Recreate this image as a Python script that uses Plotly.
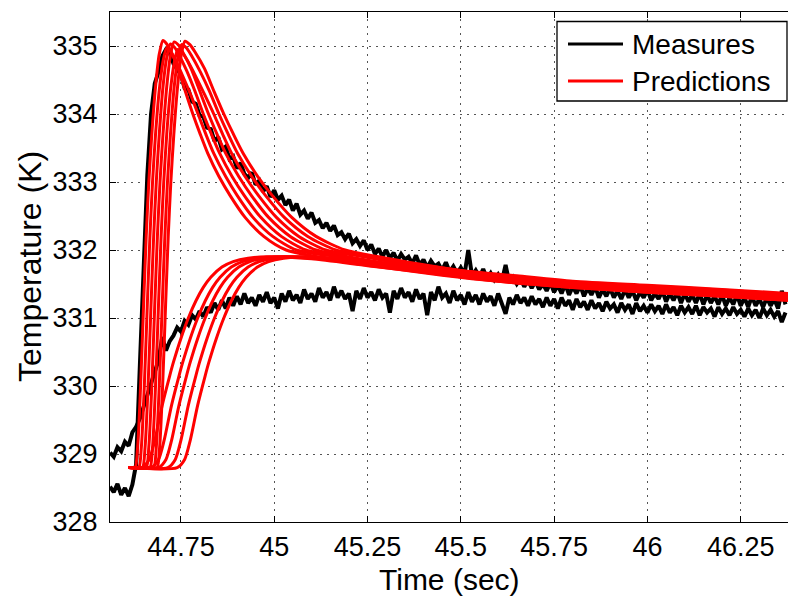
import numpy as np
import plotly.graph_objects as go

# ---------------- data ----------------
t_meas = np.round(np.arange(44.56, 46.3701, 0.01), 2)

meas_a = [
 328.52, 328.44, 328.56, 328.40, 328.50, 328.38, 328.55, 328.85,
 330.30, 331.90, 333.10, 334.00, 334.45, 334.62, 334.85, 334.95,
 334.90, 334.74, 334.66, 334.58, 334.38, 334.36, 334.18, 334.15, 333.98, 333.96,
 333.80, 333.78, 333.60, 333.66, 333.48, 333.52, 333.34, 333.38, 333.20, 333.28,
 333.12, 333.06, 333.14, 332.96, 333.02, 332.86, 332.94, 332.78, 332.88, 332.74,
 332.80, 332.66, 332.74, 332.58, 332.68, 332.52, 332.58, 332.46, 332.55, 332.40,
 332.44, 332.32, 332.40, 332.28, 332.36, 332.22, 332.26, 332.16, 332.24, 332.10,
 332.16, 332.06, 332.14, 332.00, 332.08, 331.94, 332.02, 331.90, 332.00, 331.88,
 331.96, 331.84, 331.94, 331.86, 331.90, 331.80, 331.92, 331.78, 331.86, 331.74,
 331.84, 331.76, 331.80, 331.70, 331.82, 331.68, 331.76, 331.66, 331.74, 331.64,
 332.00, 331.62, 331.70, 331.60, 331.72, 331.58, 331.66, 331.56, 331.64, 331.54,
 331.78, 331.52, 331.60, 331.50, 331.58, 331.46, 331.56, 331.44, 331.54, 331.42,
 331.50, 331.40, 331.52, 331.38, 331.48, 331.36, 331.50, 331.34, 331.46, 331.36,
 331.48, 331.32, 331.44, 331.34, 331.46, 331.30, 331.42, 331.32, 331.44, 331.30,
 331.40, 331.28, 331.42, 331.30, 331.40, 331.26, 331.38, 331.30, 331.42, 331.26,
 331.36, 331.28, 331.40, 331.24, 331.36, 331.26, 331.38, 331.22, 331.36, 331.24,
 331.34, 331.22, 331.36, 331.20, 331.34, 331.22, 331.32, 331.20, 331.34, 331.18,
 331.30, 331.20, 331.34, 331.18, 331.30, 331.16, 331.32, 331.18, 331.28, 331.16,
 331.30, 331.18, 331.28, 331.14, 331.40, 331.20,
]

meas_b = [
 329.02, 328.96, 329.10, 329.04, 329.18, 329.12, 329.32, 329.40,
 329.52, 329.70, 329.88, 330.05, 330.20, 330.38, 330.72, 330.52,
 330.66, 330.74, 330.86, 330.80, 330.96, 330.90, 331.04, 330.98, 331.10, 331.02,
 331.16, 331.08, 331.22, 331.12, 331.26, 331.14, 331.30, 331.18, 331.32, 331.20,
 331.36, 331.22, 331.30, 331.18, 331.34, 331.24, 331.38, 331.22, 331.30, 331.14,
 331.36, 331.24, 331.40, 331.26, 331.34, 331.22, 331.42, 331.28, 331.36, 331.24,
 331.44, 331.30, 331.38, 331.26, 331.46, 331.30, 331.40, 331.28, 331.36, 331.10,
 331.40, 331.28, 331.44, 331.30, 331.38, 331.26, 331.42, 331.30, 331.36, 331.08,
 331.40, 331.28, 331.44, 331.30, 331.38, 331.24, 331.42, 331.28, 331.36, 331.04,
 331.38, 331.26, 331.46, 331.30, 331.36, 331.22, 331.40, 331.26, 331.34, 331.20,
 331.38, 331.24, 331.34, 331.20, 331.36, 331.24, 331.32, 331.18, 331.36, 331.22,
 331.06, 331.30, 331.20, 331.34, 331.22, 331.30, 331.18, 331.32, 331.20, 331.28,
 331.16, 331.30, 331.18, 331.28, 331.14, 331.30, 331.18, 331.26, 331.12, 331.28,
 331.16, 331.24, 331.12, 331.26, 331.14, 331.22, 331.10, 331.24, 331.14, 331.20,
 331.08, 331.22, 331.12, 331.20, 331.06, 331.22, 331.10, 331.18, 331.08, 331.20,
 331.10, 331.18, 331.06, 331.20, 331.08, 331.16, 331.04, 331.18, 331.08, 331.16,
 331.06, 331.18, 331.04, 331.16, 331.08, 331.14, 331.02, 331.16, 331.06, 331.14,
 331.04, 331.16, 331.06, 331.12, 331.02, 331.14, 331.04, 331.12, 331.00, 331.14,
 331.04, 331.12, 331.02, 331.10, 330.94, 331.08,
]

# Predictions: curves that overshoot to a peak
peak_t = [
 [44.61, 44.612, 44.627, 44.634, 44.642, 44.650, 44.657, 44.664, 44.672, 44.682, 44.692, 44.702,
  44.712, 44.722, 44.742, 44.762, 44.782, 44.802, 44.822, 44.852, 44.882, 44.922, 44.972, 45.032,
  45.15, 45.30, 45.45, 45.60, 45.80, 46.00, 46.20, 46.38],
 [44.61, 44.622, 44.637, 44.644, 44.652, 44.660, 44.667, 44.674, 44.682, 44.692, 44.702, 44.712,
  44.723, 44.733, 44.754, 44.775, 44.796, 44.817, 44.838, 44.870, 44.901, 44.943, 44.996, 45.059,
  45.17, 45.30, 45.45, 45.60, 45.80, 46.00, 46.20, 46.38],
 [44.61, 44.632, 44.647, 44.654, 44.662, 44.670, 44.677, 44.684, 44.692, 44.702, 44.712, 44.722,
  44.733, 44.744, 44.766, 44.788, 44.810, 44.832, 44.854, 44.887, 44.920, 44.964, 45.019, 45.085,
  45.20, 45.30, 45.45, 45.60, 45.80, 46.00, 46.20, 46.38],
 [44.61, 44.642, 44.657, 44.664, 44.672, 44.680, 44.687, 44.694, 44.702, 44.712, 44.722, 44.732,
  44.744, 44.755, 44.778, 44.801, 44.824, 44.847, 44.870, 44.905, 44.939, 44.985, 45.043, 45.112,
  45.22, 45.32, 45.45, 45.60, 45.80, 46.00, 46.20, 46.38],
 [44.61, 44.652, 44.667, 44.674, 44.682, 44.690, 44.697, 44.704, 44.712, 44.722, 44.732, 44.742,
  44.754, 44.766, 44.790, 44.814, 44.838, 44.862, 44.886, 44.922, 44.958, 45.006, 45.066, 45.138,
  45.24, 45.34, 45.45, 45.60, 45.80, 46.00, 46.20, 46.38],
 [44.61, 44.662, 44.677, 44.684, 44.692, 44.700, 44.707, 44.714, 44.722, 44.732, 44.742, 44.752,
  44.765, 44.777, 44.802, 44.827, 44.852, 44.877, 44.902, 44.940, 44.977, 45.027, 45.090, 45.165,
  45.26, 45.36, 45.47, 45.60, 45.80, 46.00, 46.20, 46.38],
 [44.61, 44.671, 44.686, 44.693, 44.701, 44.709, 44.716, 44.723, 44.731, 44.741, 44.751, 44.761,
  44.774, 44.787, 44.813, 44.839, 44.865, 44.891, 44.917, 44.956, 44.995, 45.047, 45.112, 45.190,
  45.28, 45.38, 45.50, 45.65, 45.80, 46.00, 46.20, 46.38],
]
peak_v = [
 [328.8, 328.8, 328.8, 329.1, 330.0, 331.2, 332.2, 333.0, 333.7, 334.4, 334.88, 335.08,
  335.03, 334.93, 334.68, 334.33, 334.0, 333.7, 333.42, 333.08, 332.8, 332.48, 332.2, 332.0,
  331.87, 331.76, 331.65, 331.56, 331.47, 331.41, 331.35, 331.29],
 [328.8, 328.8, 328.8, 329.1, 330.0, 331.2, 332.2, 333.0, 333.7, 334.35, 334.77, 334.97,
  334.92, 334.82, 334.57, 334.3, 334.0, 333.7, 333.42, 333.08, 332.8, 332.48, 332.2, 332.0,
  331.9, 331.78, 331.67, 331.58, 331.49, 331.43, 331.37, 331.31],
 [328.8, 328.8, 328.8, 329.1, 330.0, 331.2, 332.2, 333.0, 333.7, 334.4, 334.83, 335.03,
  334.98, 334.88, 334.63, 334.33, 334.0, 333.7, 333.42, 333.08, 332.8, 332.48, 332.2, 332.0,
  331.88, 331.8, 331.69, 331.6, 331.5, 331.44, 331.38, 331.32],
 [328.8, 328.8, 328.8, 329.1, 330.0, 331.2, 332.2, 333.0, 333.7, 334.4, 334.86, 335.06,
  335.01, 334.91, 334.66, 334.33, 334.0, 333.7, 333.42, 333.08, 332.8, 332.48, 332.2, 332.0,
  331.88, 331.79, 331.7, 331.61, 331.51, 331.45, 331.39, 331.33],
 [328.8, 328.8, 328.8, 329.1, 330.0, 331.2, 332.2, 333.0, 333.7, 334.35, 334.75, 334.95,
  334.9, 334.8, 334.55, 334.28, 334.0, 333.7, 333.42, 333.08, 332.8, 332.48, 332.2, 332.0,
  331.9, 331.8, 331.72, 331.62, 331.52, 331.46, 331.4, 331.34],
 [328.8, 328.8, 328.8, 329.1, 330.0, 331.2, 332.2, 333.0, 333.7, 334.4, 334.82, 335.02,
  334.97, 334.87, 334.62, 334.33, 334.0, 333.7, 333.42, 333.08, 332.8, 332.48, 332.2, 332.0,
  331.9, 331.8, 331.72, 331.63, 331.53, 331.47, 331.41, 331.35],
 [328.8, 328.8, 328.8, 329.1, 330.0, 331.2, 332.2, 333.0, 333.7, 334.4, 334.87, 335.07,
  335.02, 334.92, 334.67, 334.33, 334.0, 333.7, 333.42, 333.08, 332.8, 332.48, 332.2, 332.0,
  331.9, 331.8, 331.7, 331.62, 331.54, 331.48, 331.42, 331.36],
]

# Predictions: curves that rise slowly to a plateau
rise_t = [
 [44.61, 44.645, 44.665, 44.68, 44.70, 44.72, 44.73, 44.75, 44.77, 44.79, 44.81, 44.83, 44.86, 44.89, 44.93, 44.98,
  45.10, 45.25, 45.45, 45.60, 45.80, 46.00, 46.20, 46.38],
 [44.61, 44.67, 44.69, 44.705, 44.725, 44.745, 44.755, 44.775, 44.795, 44.815, 44.835, 44.855, 44.885, 44.915, 44.955, 45.005,
  45.12, 45.27, 45.45, 45.60, 45.80, 46.00, 46.20, 46.38],
 [44.61, 44.69, 44.71, 44.725, 44.745, 44.765, 44.775, 44.795, 44.815, 44.835, 44.855, 44.875, 44.905, 44.935, 44.975, 45.025,
  45.14, 45.28, 45.45, 45.60, 45.80, 46.00, 46.20, 46.38],
 [44.61, 44.715, 44.735, 44.75, 44.77, 44.79, 44.80, 44.82, 44.84, 44.86, 44.88, 44.90, 44.93, 44.96, 45.00, 45.05,
  45.16, 45.30, 45.45, 45.60, 45.80, 46.00, 46.20, 46.38],
 [44.61, 44.74, 44.76, 44.775, 44.795, 44.815, 44.825, 44.845, 44.865, 44.885, 44.905, 44.925, 44.955, 44.985, 45.025, 45.075,
  45.18, 45.32, 45.45, 45.60, 45.80, 46.00, 46.20, 46.38],
]
rise_v = [
 [328.8, 328.8, 328.92, 329.2, 329.72, 330.15, 330.35, 330.7, 331.0, 331.25, 331.45, 331.6, 331.75, 331.83, 331.88, 331.9,
  331.87, 331.77, 331.64, 331.55, 331.46, 331.39, 331.33, 331.27],
 [328.8, 328.8, 328.92, 329.2, 329.72, 330.15, 330.35, 330.7, 331.0, 331.25, 331.45, 331.6, 331.75, 331.83, 331.88, 331.9,
  331.87, 331.76, 331.63, 331.54, 331.45, 331.38, 331.32, 331.26],
 [328.8, 328.8, 328.92, 329.2, 329.72, 330.15, 330.35, 330.7, 331.0, 331.25, 331.45, 331.6, 331.75, 331.83, 331.88, 331.9,
  331.87, 331.77, 331.65, 331.55, 331.46, 331.39, 331.33, 331.27],
 [328.8, 328.8, 328.92, 329.2, 329.72, 330.15, 330.35, 330.7, 331.0, 331.25, 331.45, 331.6, 331.75, 331.83, 331.88, 331.9,
  331.86, 331.76, 331.64, 331.54, 331.45, 331.38, 331.32, 331.26],
 [328.8, 328.8, 328.92, 329.2, 329.72, 330.15, 330.35, 330.7, 331.0, 331.25, 331.45, 331.6, 331.75, 331.83, 331.88, 331.9,
  331.87, 331.76, 331.66, 331.56, 331.47, 331.40, 331.34, 331.28],
]

x_ticks = [44.75, 45.0, 45.25, 45.5, 45.75, 46.0, 46.25]
x_tick_labels = ["44.75", "45", "45.25", "45.5", "45.75", "46", "46.25"]
y_ticks = [328, 329, 330, 331, 332, 333, 334, 335]
y_tick_labels = ["328", "329", "330", "331", "332", "333", "334", "335"]

series_names = ["Measures", "Predictions"]
x_title = "Time (sec)"
y_title = "Temperature (K)"

# ---------------- figure ----------------
FONT = "Liberation Sans, Arial, sans-serif"
fig = go.Figure()

for vals in (meas_a, meas_b):
    fig.add_trace(go.Scatter(x=t_meas, y=vals, mode="lines",
                             line=dict(color="black", width=4),
                             showlegend=False, hoverinfo="skip"))

for tx, vy in zip(peak_t, peak_v):
    fig.add_trace(go.Scatter(x=tx, y=vy, mode="lines",
                             line=dict(color="#ff0000", width=3, shape="spline", smoothing=0.7),
                             showlegend=False, hoverinfo="skip"))
for tx, vy in zip(rise_t, rise_v):
    fig.add_trace(go.Scatter(x=tx, y=vy, mode="lines",
                             line=dict(color="#ff0000", width=3, shape="spline", smoothing=0.7),
                             showlegend=False, hoverinfo="skip"))

L, R, T, B = 110, 0, 12, 74
W, H = 788, 596
pw, ph = W - L - R, H - T - B

def px(xp):
    return (xp - L) / pw

def py(yp):
    return (H - B - yp) / ph

grid = dict(showgrid=True, gridcolor="#555555", gridwidth=1, griddash="2px,5px")

fig.update_layout(
    template="none",
    width=W, height=H,
    margin=dict(l=L, r=R, t=T, b=B, autoexpand=False),
    paper_bgcolor="white", plot_bgcolor="white",
    font=dict(family=FONT, color="black", size=27),
    xaxis=dict(range=[44.56, 46.3767], tickvals=x_ticks, ticktext=x_tick_labels,
               ticks="inside", ticklen=6, tickwidth=1, tickcolor="black",
               showline=True, linecolor="black", linewidth=1.3, mirror="ticks",
               zeroline=False, automargin=False, tickfont=dict(size=27, family=FONT),
               ticklabelstandoff=0, **grid),
    yaxis=dict(range=[328, 335.5], tickvals=y_ticks, ticktext=y_tick_labels,
               ticks="inside", ticklen=6, tickwidth=1, tickcolor="black",
               showline=True, linecolor="black", linewidth=1.3, mirror=False,
               zeroline=False, automargin=False, tickfont=dict(size=27, family=FONT),
               ticklabelstandoff=6, **grid),
    showlegend=False,
)

# axis titles
fig.add_annotation(text=x_title, xref="paper", yref="paper",
                   x=px(449), y=py(579), xanchor="center", yanchor="middle",
                   showarrow=False, font=dict(size=30, family=FONT))
fig.add_annotation(text=y_title, xref="paper", yref="paper",
                   x=px(30), y=py(267), xanchor="center", yanchor="middle",
                   textangle=-90, showarrow=False, font=dict(size=32, family=FONT))

# legend (drawn manually to match the original box)
fig.add_shape(type="rect", xref="paper", yref="paper",
              x0=px(557), x1=px(787), y0=py(101), y1=py(21.5),
              line=dict(color="black", width=1.3), fillcolor="white", layer="above")
leg_colors = ["black", "#ff0000"]
leg_y = [44, 81]
for name, col, yy in zip(series_names, leg_colors, leg_y):
    fig.add_shape(type="line", xref="paper", yref="paper",
                  x0=px(568), x1=px(623), y0=py(yy), y1=py(yy),
                  line=dict(color=col, width=3), layer="above")
    fig.add_annotation(text=name, xref="paper", yref="paper",
                       x=px(630), y=py(yy + 1), xanchor="left", yanchor="middle",
                       showarrow=False, font=dict(size=28, family=FONT))

fig.write_html("out.html",
               config={"displayModeBar": False},
               post_script="document.body.style.margin='0';document.body.style.overflow='hidden';")
